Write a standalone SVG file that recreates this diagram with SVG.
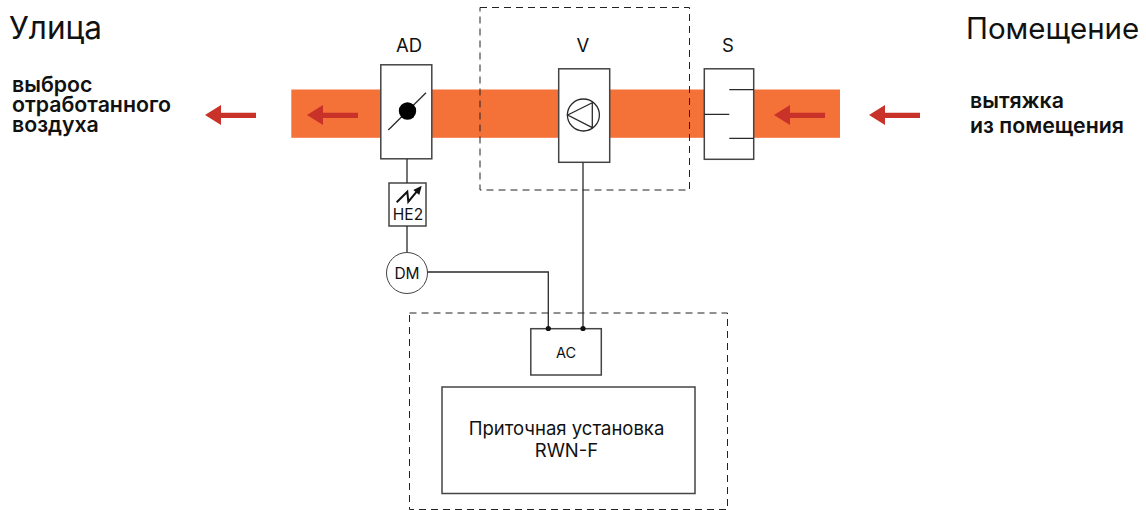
<svg xmlns="http://www.w3.org/2000/svg" width="1146" height="510" viewBox="0 0 1146 510">
<style>
text{font-family:Inter,"Liberation Sans",sans-serif;fill:#111}
.box{fill:#fff;stroke:#444;stroke-width:1.5}
.ln{fill:none;stroke:#2a2a2a;stroke-width:1.3}
.zig{fill:none;stroke:#111;stroke-width:2}
.dash{fill:none;stroke:#222;stroke-width:1;stroke-dasharray:7 5}
.flow{fill:none;stroke:#c83228;stroke-width:5.300}
.head{fill:#c83228}
.h{font-size:29.500px}
.b{font-size:21.300px;font-weight:600}
.l{font-size:18.500px;text-anchor:middle}
.s{font-size:14.500px;text-anchor:middle}
</style>
<rect id="duct" x="291.300" y="89.500" width="548.700" height="48.300" fill="#f47138"/>
<g id="arrows">
<path class="flow" d="M256 115.300H220M358 115.300H322M825 115.300H789M920 115.300H884"/>
<path class="head" d="M205 115L221 105V125ZM307 115L323 105V125ZM774 115L790 105V125ZM869 115L885 105V125Z"/>
</g>
<g id="frame-v"><rect class="dash" x="480" y="7.500" width="209.500" height="182.500"/></g>
<g id="frame-unit"><rect class="dash" x="409.500" y="313" width="318" height="196.500"/></g>
<g id="AD">
<rect class="box" x="380.800" y="64.800" width="51" height="94"/>
<path class="ln" d="M388.300 130L426 92.700"/><circle cx="407.500" cy="111" r="8.700" fill="#000"/>
<text class="l" x="409" y="52">AD</text>
</g>
<g id="V">
<rect class="box" x="558.700" y="68.800" width="51" height="93.500"/>
<circle class="ln" cx="583.400" cy="115" r="16"/><path class="ln" d="M567.700 115L592.300 102.700V127.700Z"/>
<text class="l" x="583" y="52">V</text>
</g>
<g id="S">
<rect class="box" x="704.300" y="68.800" width="49.400" height="90.500"/>
<path class="ln" d="M729.300 89.700H754M704.300 114.300H729.300M729.300 138.300H754"/>
<text class="l" x="728" y="52">S</text>
</g>
<g id="HE2">
<rect class="box" x="389" y="183" width="37" height="43"/>
<path class="zig" d="M396.700 202.300L407.300 191.700L408.300 201.700L416.700 191.700"/><path d="M421.700 185.700L413.300 190L419.300 195Z" fill="#111"/>
<text class="s" x="408" y="220" style="font-size:15.500px">HE2</text>
</g>
<g id="DM">
<circle class="box" cx="407" cy="273" r="20.500" style="stroke-width:1"/>
<text class="s" x="407" y="279" style="font-size:15.500px">DM</text>
</g>
<g id="AC">
<rect class="box" x="530.800" y="328.700" width="70.500" height="46.300"/>
<text class="s" x="566" y="358">AC</text>
</g>
<g id="connectors">
<path class="ln" d="M407 159V183M407 226V252M427.500 272H548.300V328.500M583 162.500V328.500"/>
<circle cx="548.300" cy="328.500" r="2.600" fill="#111"/><circle cx="583" cy="328.500" r="2.600" fill="#111"/>
</g>
<g id="unit">
<rect class="box" x="442" y="387" width="253" height="106.500"/>
<text class="l" x="566.500" y="435">Приточная установка</text>
<text class="l" x="566.500" y="457">RWN-F</text>
</g>
<g id="labels">
<text class="h" x="9" y="39" style="font-size:31.500px">Улица</text>
<text class="h" x="966" y="39">Помещение</text>
<text class="b" x="12" y="92">выброс</text>
<text class="b" x="12" y="112">отработанного</text>
<text class="b" x="12" y="132">воздуха</text>
<text class="b" x="970" y="107.500">вытяжка</text>
<text class="b" x="970" y="133">из помещения</text>
</g>
</svg>
